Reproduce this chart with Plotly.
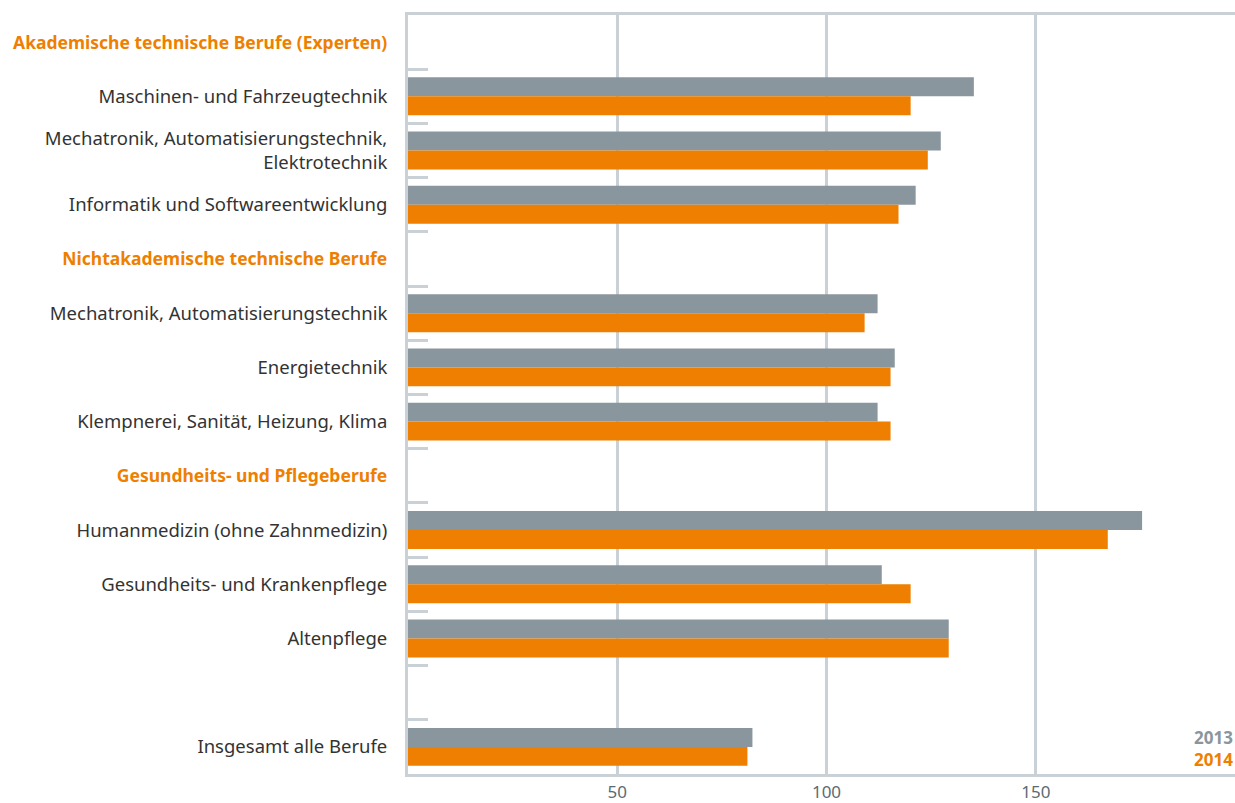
import plotly.graph_objects as go

categories = [
    "Akademische technische Berufe (Experten)",
    "Maschinen- und Fahrzeugtechnik",
    "Mechatronik, Automatisierungstechnik,<br>Elektrotechnik",
    "Informatik und Softwareentwicklung",
    "Nichtakademische technische Berufe",
    "Mechatronik, Automatisierungstechnik",
    "Energietechnik",
    "Klempnerei, Sanität, Heizung, Klima",
    "Gesundheits- und Pflegeberufe",
    "Humanmedizin (ohne Zahnmedizin)",
    "Gesundheits- und Krankenpflege",
    "Altenpflege",
    " ",
    "Insgesamt alle Berufe",
]
headers = {0, 4, 8}
values_2013 = [None, 135.2, 127.3, 121.3, None, 112.2, 116.3, 112.2, None, 175.4, 113.2, 129.2, None, 82.3]
values_2014 = [None, 120.1, 124.2, 117.2, None, 109.1, 115.3, 115.3, None, 167.2, 120.1, 129.2, None, 81.1]
x_ticks = [50, 100, 150]
series_names = ["2013", "2014"]

GRAY = "#8a969d"
ORANGE = "#ee7f00"
GRID = "#c9d1d6"
TEXT = "#333333"

ticktext = []
for i, c in enumerate(categories):
    if i in headers:
        ticktext.append(f"<b><span style='color:{ORANGE};font-size:17.5px'>{c}</span></b>")
    else:
        ticktext.append(c)

fig = go.Figure()
fig.add_trace(go.Bar(y=categories, x=values_2013, orientation="h", name=series_names[0],
                     marker=dict(color=GRAY, line=dict(width=0))))
fig.add_trace(go.Bar(y=categories, x=values_2014, orientation="h", name=series_names[1],
                     marker=dict(color=ORANGE, line=dict(width=0))))

fig.update_layout(
    width=1235, height=803,
    margin=dict(l=408, r=0, t=15, b=29),
    paper_bgcolor="white", plot_bgcolor="white",
    barmode="group", bargap=0.3, bargroupgap=0,
    showlegend=False,
    font=dict(family="Noto Sans, Open Sans, sans-serif", size=18, color=TEXT),
    xaxis=dict(
        range=[0, 197.6], tickvals=x_ticks, ticks="",
        showgrid=True, gridcolor=GRID, gridwidth=3,
        showline=True, linecolor=GRID, linewidth=3, mirror=True,
        zeroline=False, automargin=False,
        ticklabelstandoff=1,
        tickfont=dict(size=17, color="#5b6b73"),
    ),
    yaxis=dict(
        type="category", autorange="reversed", automargin=False,
        tickvals=categories, ticktext=ticktext,
        tickson="boundaries", ticks="inside", ticklen=20, tickwidth=3, tickcolor=GRID,
        showgrid=False, showline=True, linecolor=GRID, linewidth=3,
        ticklabelstandoff=14,
        tickfont=dict(size=18.5, color=TEXT),
    ),
)

fig.add_annotation(
    x=1, y=0.033, xref="paper", yref="paper", xanchor="right", yanchor="middle", align="right",
    text=(f"<b><span style='color:{GRAY}'>{series_names[0]}</span><br>"
          f"<span style='color:{ORANGE}'>{series_names[1]}</span></b>"),
    showarrow=False, font=dict(size=17, color=GRAY),
)

fig.write_html(
    "out.html",
    config={"displayModeBar": False},
    post_script="document.body.style.margin='0';document.body.style.overflow='hidden';",
)
